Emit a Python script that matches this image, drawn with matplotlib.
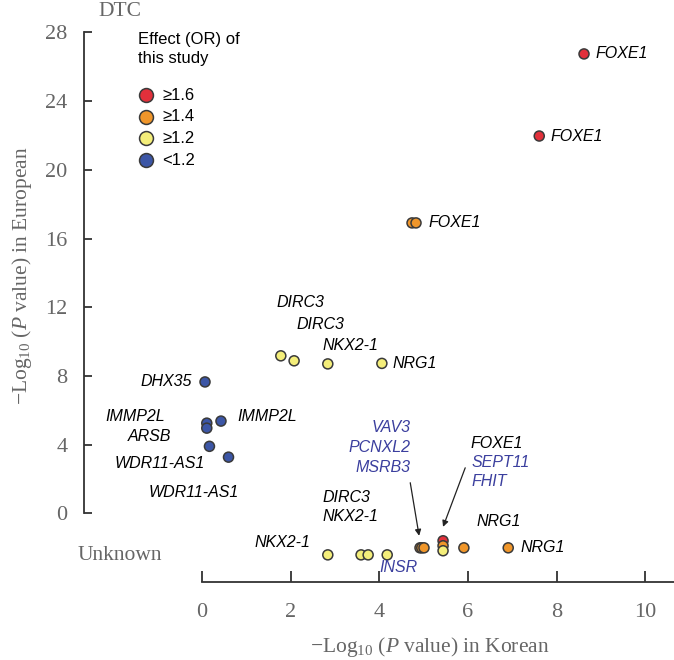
import matplotlib
matplotlib.use("Agg")
import matplotlib.pyplot as plt

plt.rcParams["mathtext.fontset"] = "custom"
plt.rcParams["mathtext.rm"] = "Liberation Serif"
plt.rcParams["mathtext.it"] = "Liberation Serif:italic"

SERIF = ["Liberation Serif", "DejaVu Serif"]
SANS = ["Liberation Sans", "DejaVu Sans"]
GRAY = "#666666"
AXIS_COLOR = "#333333"
BLUE_TEXT = "#3b3f9e"

# Effect (OR) classes -> fill colour
effect_colors = {"r": "#e2303b", "o": "#f0962a", "y": "#f4ee7a", "b": "#3c56a6"}
legend_keys = ["r", "o", "y", "b"]
legend_labels = ["\u22651.6", "\u22651.4", "\u22651.2", "<1.2"]

# SNPs with a European P value
korean_known = [8.62, 7.61, 4.74, 4.83, 1.78, 2.08, 2.84, 4.06,
                0.07, 0.11, 0.11, 0.43, 0.17, 0.60]
european_known = [26.75, 21.97, 16.91, 16.91, 9.17, 8.88, 8.70, 8.73,
                  7.65, 5.25, 4.96, 5.37, 3.90, 3.27]
effect_known = ["r", "r", "o", "o", "y", "y", "y", "y",
                "b", "b", "b", "b", "b", "b"]

# SNPs with unknown European P value (row position inside the "Unknown" band)
korean_unknown = [2.84, 3.59, 3.75, 4.18, 4.92, 4.96, 5.01, 5.44, 5.44, 5.44, 5.91, 6.91]
unknown_row = [-2.42, -2.42, -2.42, -2.42, -2.01, -2.01, -2.01, -1.60, -1.89, -2.18, -2.01, -2.01]
effect_unknown = ["y", "y", "y", "y", "o", "o", "o", "r", "o", "y", "o", "o"]

y_ticks = [0, 4, 8, 12, 16, 20, 24, 28]
x_ticks = [0, 2, 4, 6, 8, 10]

# gene labels: text, x, y, alignment, colour
gene_labels = [
    ("FOXE1", 8.87, 26.75, "left", "black"),
    ("FOXE1", 7.86, 21.97, "left", "black"),
    ("FOXE1", 5.12, 16.91, "left", "black"),
    ("DIRC3", 1.69, 12.25, "left", "black"),
    ("DIRC3", 2.14, 10.97, "left", "black"),
    ("NKX2-1", 2.73, 9.75, "left", "black"),
    ("NRG1", 4.31, 8.70, "left", "black"),
    ("DHX35", -0.23, 7.65, "right", "black"),
    ("IMMP2L", -0.84, 5.62, "right", "black"),
    ("IMMP2L", 0.79, 5.62, "left", "black"),
    ("ARSB", -0.70, 4.45, "right", "black"),
    ("WDR11-AS1", 0.07, 2.88, "right", "black"),
    ("WDR11-AS1", 0.84, 1.19, "right", "black"),
    ("VAV3", 4.70, 4.98, "right", BLUE_TEXT),
    ("PCNXL2", 4.70, 3.81, "right", BLUE_TEXT),
    ("MSRB3", 4.70, 2.65, "right", BLUE_TEXT),
    ("FOXE1", 6.05, 4.05, "left", "black"),
    ("SEPT11", 6.09, 2.94, "left", BLUE_TEXT),
    ("FHIT", 6.09, 1.83, "left", BLUE_TEXT),
    ("DIRC3", 2.73, 0.90, "left", "black"),
    ("NKX2-1", 2.73, -0.20, "left", "black"),
    ("NRG1", 6.19, -0.49, "left", "black"),
    ("NRG1", 7.18, -2.01, "left", "black"),
    ("NKX2-1", 2.44, -1.72, "right", "black"),
    ("INSR", 4.00, -3.17, "left", BLUE_TEXT),
]

# arrows (tail -> head)
arrows = [((4.70, 1.78), (4.90, -1.31)),
          ((5.94, 2.65), (5.44, -0.79))]

W, H = 674, 660
fig = plt.figure(figsize=(W / 100, H / 100), dpi=100)
ax = fig.add_axes([84 / W, 78 / H, 590 / W, 554 / H])

point_kw = dict(s=52, edgecolors="#3a3a3a", linewidths=1.1, zorder=3)
ax.scatter(korean_known, european_known,
           c=[effect_colors[e] for e in effect_known], **point_kw)
ax.scatter(korean_unknown, unknown_row,
           c=[effect_colors[e] for e in effect_unknown], **point_kw)

for text, x, y, ha, color in gene_labels:
    ax.text(x, y, text, ha=ha, va="center", fontsize=11.5, style="italic",
            family=SANS, color=color)

for (x0, y0), (x1, y1) in arrows:
    ax.annotate("", xy=(x1, y1), xytext=(x0, y0),
                arrowprops=dict(arrowstyle="-|>", color="#222222", lw=0.9,
                                mutation_scale=9, shrinkA=0, shrinkB=0))

ax.set_xlim(-2.66, 10.65)
ax.set_ylim(-4.0, 28.26)
ax.set_xticks(x_ticks)
ax.set_yticks(y_ticks)

for side in ("top", "right"):
    ax.spines[side].set_visible(False)
ax.spines["left"].set_bounds(0, 28)
ax.spines["bottom"].set_bounds(0, 10.65)
for side in ("left", "bottom"):
    ax.spines[side].set_color(AXIS_COLOR)
    ax.spines[side].set_linewidth(1.3)

ax.tick_params(axis="y", direction="in", length=6, width=1.3, color=AXIS_COLOR,
               pad=12, labelsize=16, labelcolor=GRAY)
ax.tick_params(axis="x", direction="in", length=8, width=1.3, color=AXIS_COLOR,
               pad=15, labelsize=16, labelcolor=GRAY)
for lab in ax.get_xticklabels() + ax.get_yticklabels():
    lab.set_family(SERIF)

# legend drawn by hand
fig.text(138 / W, 1 - 32 / H, "Effect (OR) of\nthis study", ha="left", va="top",
         fontsize=12, family=SANS, linespacing=1.3)
for i, (key, label) in enumerate(zip(legend_keys, legend_labels)):
    y = 1 - (95 + 21.7 * i) / H
    ax.scatter([146 / W], [y], s=100, c=effect_colors[key], edgecolors="#3a3a3a",
               linewidths=1.1, transform=fig.transFigure, clip_on=False, zorder=4)
    fig.text(162 / W, y, label, ha="left", va="center", fontsize=12, family=SANS)

fig.text(120 / W, 1 - 12 / H, "DTC", ha="center", va="center", fontsize=15.5,
         family=SERIF, color=GRAY)
fig.text(120 / W, 1 - 555 / H, "Unknown", ha="center", va="center", fontsize=15.5,
         family=SERIF, color=GRAY)
fig.text(22 / W, 1 - 276 / H, "\u2212Log$_{10}$ ($P$ value) in European",
         rotation=90, ha="center", va="center", fontsize=15.5, family=SERIF, color=GRAY)
fig.text(430 / W, 1 - 647 / H, "\u2212Log$_{10}$ ($P$ value) in Korean",
         ha="center", va="center", fontsize=15.5, family=SERIF, color=GRAY)

fig.savefig("out.png", dpi=100)
